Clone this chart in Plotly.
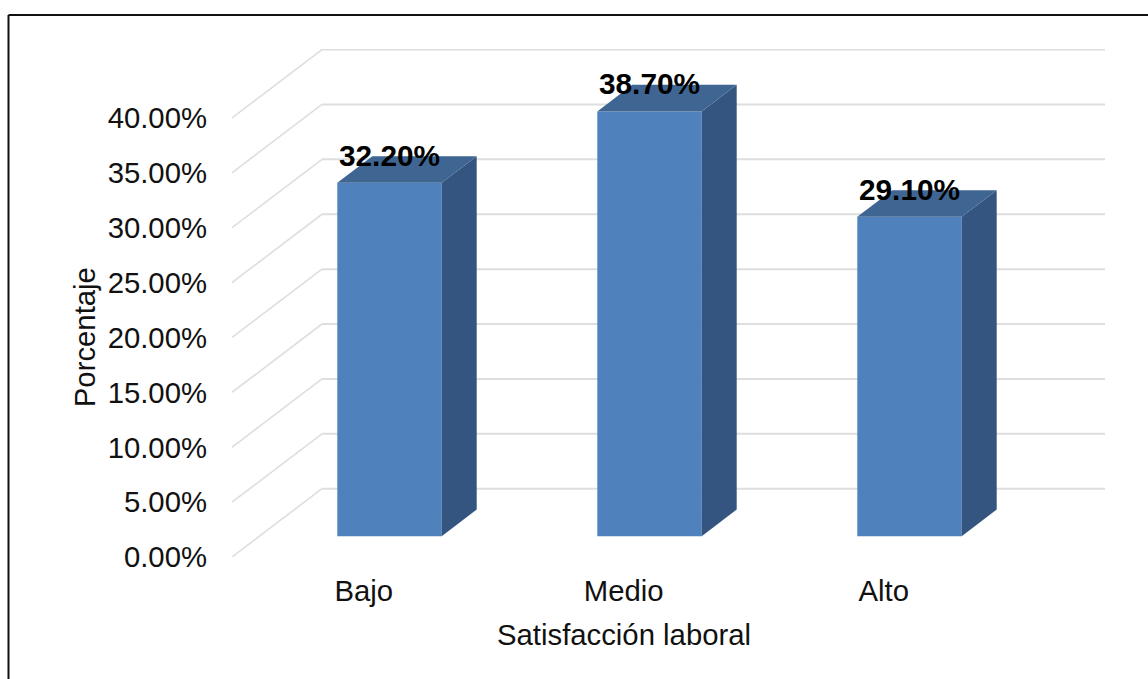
import plotly.graph_objects as go

categories = ["Bajo", "Medio", "Alto"]
values = [32.2, 38.7, 29.1]
value_labels = ["32.20%", "38.70%", "29.10%"]
grid_values = [0, 5, 10, 15, 20, 25, 30, 35, 40]
tick_labels = ["0.00%", "5.00%", "10.00%", "15.00%", "20.00%", "25.00%", "30.00%", "35.00%", "40.00%"]
x_title = "Satisfacción laboral"
y_title = "Porcentaje"

W, H = 1148, 679
L, R, T, B = 232.0, 1105.0, 49.0, 556.7      # plot area in page pixels
PX_PER_UNIT = 260.0
PX_PER_PCT = 10.97
X0_PX = 363.7                                # category 0 on the front plane

x_range = [(L - X0_PX) / PX_PER_UNIT, (R - X0_PX) / PX_PER_UNIT]
y_range = [0, (B - T) / PX_PER_PCT]

WALL_DX, WALL_DY = 90 / PX_PER_UNIT, 68.3 / PX_PER_PCT
BAR_OFF_X, BAR_OFF_Y = 25.8 / PX_PER_UNIT, 20.7 / PX_PER_PCT
BAR_DX, BAR_DY = 35 / PX_PER_UNIT, 26.7 / PX_PER_PCT
BAR_W = 104.4 / PX_PER_UNIT
LABEL_UP = 24.5 / PX_PER_PCT

FRONT, SIDE, TOP = "#4F81BD", "#335580", "#3F6592"
GRID = "#DEDEDE"
FONT = "Liberation Sans, Arial, sans-serif"
FS = 29.3
FS_BOLD = 29.8

fig = go.Figure()

# walls: grid lines on the left wall and the back wall
for g in grid_values:
    fig.add_trace(go.Scatter(
        x=[x_range[0], x_range[0] + WALL_DX], y=[g, g + WALL_DY], mode="lines",
        line=dict(color=GRID, width=1.6), hoverinfo="skip", showlegend=False, cliponaxis=False))
    fig.add_trace(go.Scatter(
        x=[x_range[0] + WALL_DX, x_range[1]], y=[g + WALL_DY, g + WALL_DY], mode="lines",
        line=dict(color=GRID, width=2), hoverinfo="skip", showlegend=False, cliponaxis=False))

xs = list(range(len(categories)))
centers = [x + BAR_OFF_X for x in xs]

# front faces
fig.add_trace(go.Bar(
    x=centers, y=values, base=[BAR_OFF_Y] * len(values), width=BAR_W,
    marker=dict(color=FRONT, line=dict(width=0)), xaxis="x2", yaxis="y2",
    showlegend=False, hoverinfo="skip"))

# side and top faces
for c, v in zip(centers, values):
    xl, xr = c - BAR_W / 2, c + BAR_W / 2
    y0, y1 = BAR_OFF_Y, BAR_OFF_Y + v
    fig.add_trace(go.Scatter(
        x=[xr, xr + BAR_DX, xr + BAR_DX, xr, xr], y=[y0, y0 + BAR_DY, y1 + BAR_DY, y1, y0],
        mode="lines", fill="toself", fillcolor=SIDE, line=dict(width=0, color=SIDE),
        xaxis="x2", yaxis="y2", showlegend=False, hoverinfo="skip"))
    fig.add_trace(go.Scatter(
        x=[xl, xr, xr + BAR_DX, xl + BAR_DX, xl], y=[y1, y1, y1 + BAR_DY, y1 + BAR_DY, y1],
        mode="lines", fill="toself", fillcolor=TOP, line=dict(width=0, color=TOP),
        xaxis="x2", yaxis="y2", showlegend=False, hoverinfo="skip"))

# data labels
fig.add_trace(go.Scatter(
    x=centers, y=[BAR_OFF_Y + v + LABEL_UP for v in values], text=value_labels,
    mode="text", textposition="middle center",
    textfont=dict(family=FONT, size=FS_BOLD, color="black", weight="bold"),
    xaxis="x2", yaxis="y2", showlegend=False, hoverinfo="skip", cliponaxis=False))

px = lambda p: (p - L) / (R - L)
py = lambda p: (B - p) / (B - T)
frame = dict(color="#111111", width=2)

fig.update_layout(
    width=W, height=H, autosize=False,
    margin=dict(l=L, r=W - R, t=T, b=H - B, pad=0),
    paper_bgcolor="white", plot_bgcolor="white", showlegend=False,
    font=dict(family=FONT, size=FS, color="#111111"),
    xaxis=dict(range=x_range, tickmode="array", tickvals=xs, ticktext=categories,
               showgrid=False, zeroline=False, showline=False, ticks="",
               ticklabelstandoff=14, tickfont=dict(family=FONT, size=FS, color="#111111")),
    yaxis=dict(range=y_range, tickmode="array", tickvals=grid_values, ticktext=tick_labels,
               showgrid=False, zeroline=False, showline=False, ticks="",
               ticklabelstandoff=24, tickfont=dict(family=FONT, size=FS, color="#111111")),
    xaxis2=dict(range=x_range, overlaying="x", visible=False),
    yaxis2=dict(range=y_range, overlaying="y", visible=False),
    shapes=[
        dict(type="line", xref="paper", yref="paper", x0=px(8.5), x1=px(8.5), y0=py(15), y1=py(H), line=frame),
        dict(type="line", xref="paper", yref="paper", x0=px(8.5), x1=px(W), y0=py(15), y1=py(15), line=frame),
    ],
    annotations=[
        dict(text=x_title, xref="paper", yref="paper", x=px(624), y=py(634), showarrow=False,
             xanchor="center", yanchor="middle", font=dict(family=FONT, size=FS, color="#111111")),
        dict(text=y_title, xref="paper", yref="paper", x=px(84), y=py(337), showarrow=False, textangle=-90,
             xanchor="center", yanchor="middle", font=dict(family=FONT, size=FS, color="#111111")),
    ],
)

fig.write_html("out.html", config=dict(displayModeBar=False),
               post_script="document.body.style.margin='0';document.body.style.overflow='hidden';")
